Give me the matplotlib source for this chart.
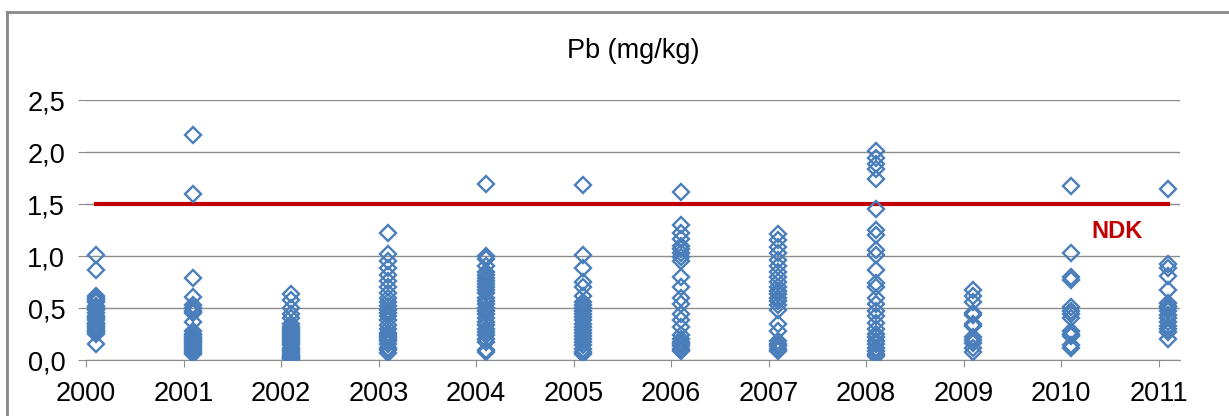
import matplotlib.pyplot as plt
from matplotlib.lines import Line2D
from matplotlib.ticker import FuncFormatter

plt.rcParams['font.family'] = ['Liberation Sans', 'DejaVu Sans']

# sample values per year (mg/kg)
years = [2000, 2001, 2002, 2003, 2004, 2005, 2006, 2007, 2008, 2009, 2010, 2011]
pb_2000 = [1.01, 0.87, 0.62, 0.60, 0.58, 0.56, 0.52, 0.50, 0.48, 0.45, 0.42, 0.40,
           0.38, 0.36, 0.35, 0.33, 0.32, 0.30, 0.28, 0.27, 0.25, 0.15]
pb_2001 = [2.16, 1.60, 0.79, 0.61, 0.53, 0.50, 0.47, 0.45, 0.37, 0.28, 0.25, 0.23,
           0.21, 0.20, 0.18, 0.17, 0.15, 0.13, 0.12, 0.10, 0.08, 0.06]
pb_2002 = [0.63, 0.58, 0.50, 0.44, 0.40, 0.35, 0.32, 0.30, 0.28, 0.26, 0.24, 0.22,
           0.20, 0.18, 0.16, 0.14, 0.12, 0.10, 0.08, 0.06, 0.04, 0.03, 0.02, 0.01]
pb_2003 = [1.22, 1.02, 0.95, 0.88, 0.82, 0.76, 0.70, 0.64, 0.60, 0.56, 0.52, 0.48,
           0.45, 0.42, 0.38, 0.34, 0.30, 0.26, 0.24, 0.22, 0.20, 0.18, 0.15, 0.12,
           0.10, 0.07]
pb_2004 = [1.69, 1.00, 0.97, 0.90, 0.85, 0.82, 0.79, 0.76, 0.73, 0.70, 0.67, 0.64,
           0.60, 0.57, 0.54, 0.50, 0.47, 0.44, 0.40, 0.37, 0.34, 0.30, 0.27, 0.24,
           0.20, 0.17, 0.10, 0.08]
pb_2005 = [1.68, 1.01, 0.88, 0.75, 0.70, 0.62, 0.56, 0.53, 0.50, 0.47, 0.44, 0.41,
           0.38, 0.35, 0.32, 0.29, 0.26, 0.23, 0.20, 0.17, 0.14, 0.11, 0.08, 0.06]
pb_2006 = [1.62, 1.30, 1.22, 1.16, 1.10, 1.07, 1.03, 0.99, 0.95, 0.80, 0.70, 0.60,
           0.54, 0.44, 0.38, 0.32, 0.24, 0.20, 0.17, 0.15, 0.13, 0.11, 0.09]
pb_2007 = [1.21, 1.15, 1.09, 1.03, 0.96, 0.90, 0.85, 0.80, 0.75, 0.70, 0.66, 0.63,
           0.60, 0.57, 0.53, 0.48, 0.35, 0.28, 0.18, 0.15, 0.13, 0.11, 0.09]
pb_2008 = [2.01, 1.94, 1.88, 1.84, 1.74, 1.45, 1.25, 1.20, 1.06, 1.01, 0.87, 0.74,
           0.70, 0.60, 0.54, 0.47, 0.42, 0.36, 0.30, 0.25, 0.22, 0.18, 0.15, 0.12,
           0.09, 0.06, 0.04]
pb_2009 = [0.67, 0.62, 0.56, 0.45, 0.43, 0.35, 0.33, 0.22, 0.19, 0.16, 0.12, 0.08]
pb_2010 = [1.67, 1.03, 0.80, 0.77, 0.51, 0.47, 0.44, 0.40, 0.28, 0.25, 0.23, 0.14, 0.12]
pb_2011 = [1.64, 0.92, 0.88, 0.81, 0.67, 0.55, 0.52, 0.50, 0.47, 0.43, 0.40, 0.37,
           0.33, 0.30, 0.27, 0.20]
all_values = [pb_2000, pb_2001, pb_2002, pb_2003, pb_2004, pb_2005,
              pb_2006, pb_2007, pb_2008, pb_2009, pb_2010, pb_2011]

sample_offset = 0.1  # samples taken early in the year
ndk_limit = 1.5
ndk_label = 'NDK'

fig = plt.figure(figsize=(12.29, 4.16), dpi=100)
ax = fig.add_axes([86 / 1229, 1 - 360 / 416, (1180 - 86) / 1229, 260 / 416])

blue = '#4A7EBB'
for yr, vals in zip(years, all_values):
    ax.plot([yr + sample_offset] * len(vals), vals, linestyle='none', marker='D',
            markersize=8.3, markerfacecolor='none', markeredgecolor=blue,
            markeredgewidth=1.7, zorder=3)

# limit line
ax.plot([years[0] + sample_offset, years[-1] + sample_offset], [ndk_limit, ndk_limit],
        color='#C00000', linewidth=3, zorder=2)
ax.text(2010.57, 1.24, ndk_label, color='#C00000', fontsize=17, fontweight='bold',
        ha='center', va='center')

ax.set_xlim(2000, 2011.22)
ax.set_ylim(0, 2.5)
ax.set_xticks(years)
ax.set_yticks([0, 0.5, 1.0, 1.5, 2.0, 2.5])
ax.yaxis.set_major_formatter(FuncFormatter(lambda v, p: f'{v:.1f}'.replace('.', ',')))
ax.grid(axis='y', color='#8C8C8C', linewidth=1)
ax.set_axisbelow(True)
for s in ['top', 'right', 'left']:
    ax.spines[s].set_visible(False)
ax.spines['bottom'].set_color('#8C8C8C')
ax.tick_params(axis='y', length=6, color='#8C8C8C', labelsize=19.5, pad=9)
ax.tick_params(axis='x', length=5, color='#8C8C8C', labelsize=19.5, pad=10)

ax.set_title('Pb (mg/kg)', fontsize=19.5, pad=30)

# outer chart frame (left and top edges only visible)
fig.add_artist(Line2D([7 / 1229, 7 / 1229], [0, 1 - 12 / 416], color='#878787',
                      linewidth=2, transform=fig.transFigure))
fig.add_artist(Line2D([7 / 1229, 1], [1 - 12 / 416, 1 - 12 / 416], color='#878787',
                      linewidth=2, transform=fig.transFigure))

fig.savefig('out.png', dpi=100)
